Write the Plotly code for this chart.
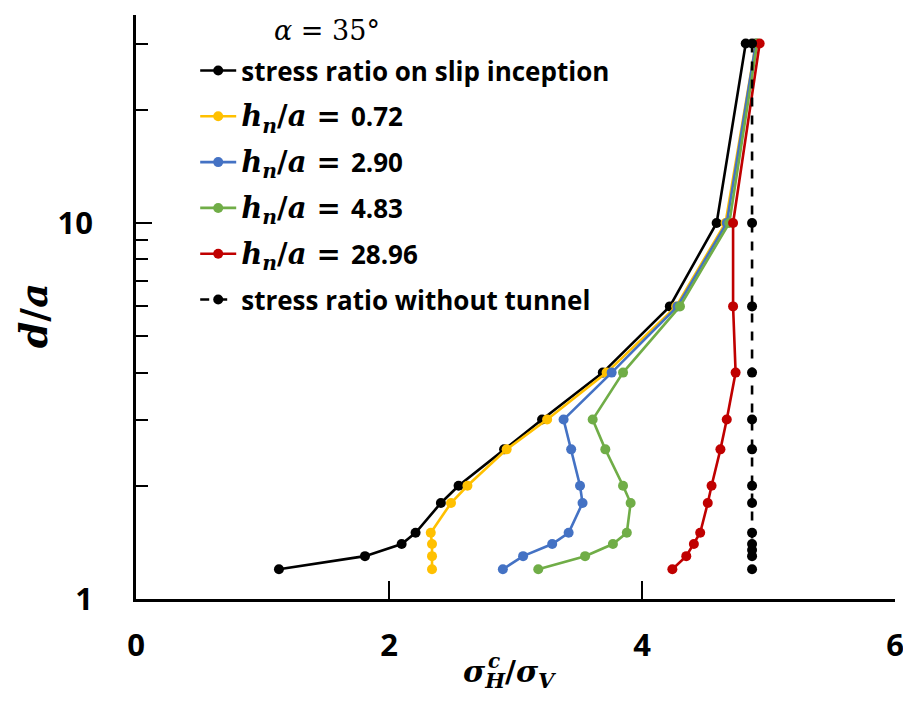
import plotly.graph_objects as go

# d/a levels (y values)
d_levels = [30, 10, 6, 4, 3, 2.5, 2, 1.8, 1.5, 1.4, 1.3, 1.2]
d_notunnel = [30, 10, 6, 4, 3, 2.5, 2, 1.8, 1.5, 1.4, 1.35, 1.3, 1.2]

# sigma_H^c / sigma_V values
slip = [4.82, 4.59, 4.22, 3.69, 3.21, 2.91, 2.55, 2.41, 2.21, 2.10, 1.81, 1.13]
h072 = [4.90, 4.66, 4.27, 3.72, 3.25, 2.93, 2.62, 2.49, 2.33, 2.34, 2.34, 2.34]
h290 = [4.90, 4.67, 4.28, 3.76, 3.38, 3.44, 3.51, 3.53, 3.42, 3.29, 3.06, 2.90]
h483 = [4.91, 4.69, 4.30, 3.85, 3.61, 3.71, 3.85, 3.91, 3.88, 3.77, 3.55, 3.18]
h2896 = [4.93, 4.72, 4.72, 4.74, 4.67, 4.62, 4.55, 4.52, 4.46, 4.41, 4.35, 4.24]
notunnel = [4.87] * len(d_notunnel)

x_ticks = [0, 2, 4, 6]
y_major = [1, 10]
y_minor = [2, 3, 4, 5, 6, 7, 8, 9, 20, 30]

SERIF = "DejaVu Serif"
SANS = "Open Sans"

def hn(val):
    return ('<span style="font-family:%s;font-size:29px"><i>h<sub>n</sub></i>/<i>a</i> = </span>%s'
            % (SERIF, val))

series = [
    ("stress ratio on slip inception", slip, d_levels, "#000000", "solid"),
    (hn("0.72"), h072, d_levels, "#FFC000", "solid"),
    (hn("2.90"), h290, d_levels, "#4472C4", "solid"),
    (hn("4.83"), h483, d_levels, "#70AD47", "solid"),
    (hn("28.96"), h2896, d_levels, "#C00000", "solid"),
    ("stress ratio without tunnel", notunnel, d_notunnel, "#000000", "dash"),
]

fig = go.Figure()
for i, (name, xs, ys, col, dash) in enumerate(series):
    fig.add_trace(go.Scatter(
        x=xs, y=ys, name=name, mode="lines+markers",
        line=dict(color=col, width=2.6, dash=dash),
        marker=dict(color=col, size=10),
        legendgroup="g%d" % i,
    ))

PW = 766  # plot width in px
title_font = dict(family=SERIF, size=30, color="black", weight="bold")

fig.update_layout(
    width=903, height=698,
    margin=dict(l=128, r=903 - 128 - PW, t=7, b=107),
    plot_bgcolor="white", paper_bgcolor="white",
    showlegend=True,
    legend=dict(
        x=0.078, y=0.945, xanchor="left", yanchor="top",
        bgcolor="rgba(0,0,0,0)",
        font=dict(family=SANS, size=26, color="black", weight="bold"),
        traceorder="grouped", tracegroupgap=9,
        itemwidth=36,
    ),
    xaxis=dict(
        range=[0, 6], tickvals=x_ticks, ticks="inside", ticklen=18, tickwidth=2,
        tickcolor="black", showline=True, linecolor="black", linewidth=2.5,
        showgrid=False, zeroline=False, ticklabelstandoff=17,
        tickfont=dict(family=SANS, size=31, color="black", weight="bold"),
    ),
    yaxis=dict(
        type="log", range=[0, 1.553], tickvals=y_major, ticktext=["1", "10"],
        ticks="inside", ticklen=16, tickwidth=2, tickcolor="black",
        showline=True, linecolor="black", linewidth=2.5,
        showgrid=False, zeroline=False, ticklabelstandoff=34,
        tickfont=dict(family=SANS, size=31, color="black", weight="bold"),
        minor=dict(tickvals=y_minor, ticks="inside", ticklen=12, tickwidth=2,
                   tickcolor="black", showgrid=False),
    ),
    annotations=[
        # x-axis title: sigma_H / sigma_V with superscript c stacked over H
        dict(text="<i>σ</i><sub><i>H</i></sub>/<i>σ</i><sub><i>V</i></sub>",
             xref="paper", yref="paper", x=(464 - 136) / PW, y=-0.128,
             xanchor="left", yanchor="middle",
             showarrow=False, font=title_font),
        dict(text="<i>c</i>",
             xref="paper", yref="paper", x=(489 - 136) / PW, y=-(661 - 599) / 584,
             xanchor="left", yanchor="middle",
             showarrow=False, font=dict(family=SERIF, size=20, color="black", weight="bold")),
        dict(text="<i>d</i>/<i>a</i>", textangle=-90,
             xref="paper", yref="paper", x=-0.135, y=0.485, xanchor="center", yanchor="middle",
             showarrow=False, font=dict(family=SERIF, size=38, color="black", weight="bold")),
        dict(text="<i>α</i> = 35°",
             xref="paper", yref="paper", x=(273 - 136) / PW, y=1 - (30 - 15) / 584,
             xanchor="left", yanchor="middle",
             showarrow=False, font=dict(family=SERIF, size=27, color="black")),
    ],
)

fig.write_html("out.html")
